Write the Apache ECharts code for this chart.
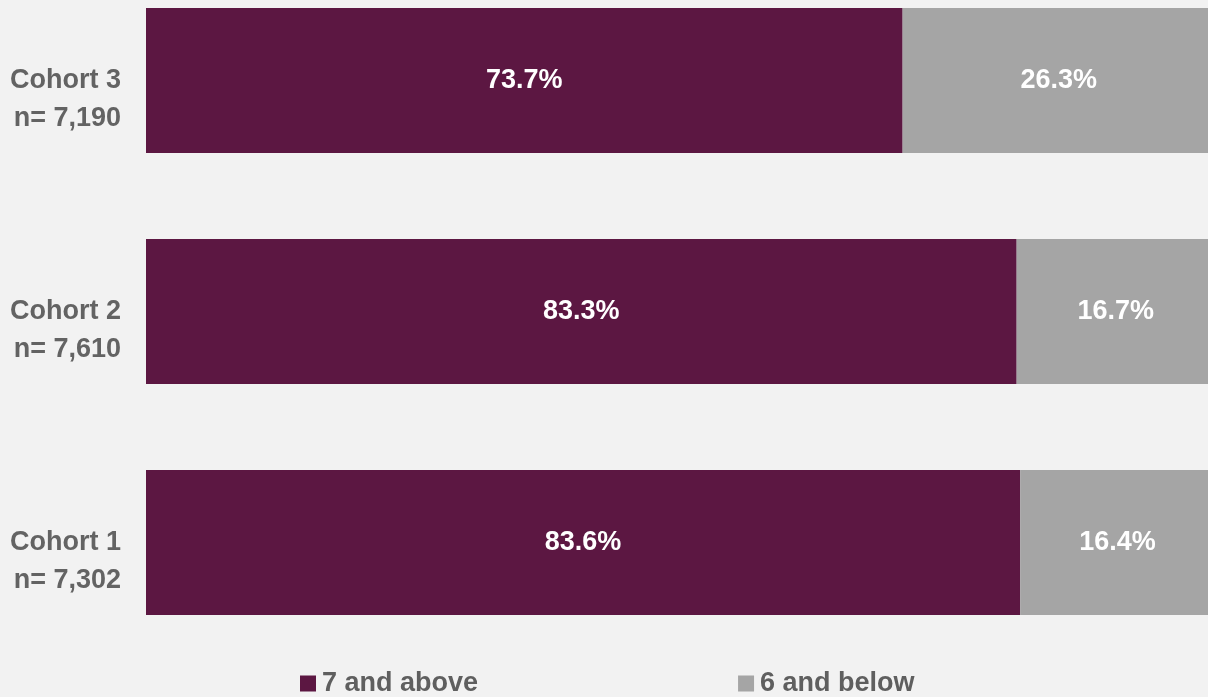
<!DOCTYPE html>
<html>
<head>
<meta charset="utf-8">
<script src="https://cdn.jsdelivr.net/npm/echarts@6/dist/echarts.min.js"></script>
<style>
html,body{margin:0;padding:0;background:#f2f2f2;}
#c{width:1208px;height:697px;}
</style>
</head>
<body>
<div id="c"></div>
<script>
const categories = ['Cohort 1\nn= 7,302', 'Cohort 2\nn= 7,610', 'Cohort 3\nn= 7,190'];
const seriesNames = ['7 and above', '6 and below'];
const aboveValues = [83.6, 83.3, 73.7];
const belowValues = [16.4, 16.7, 26.3];

const FONT = '"Liberation Sans Narrow", "Arial Narrow", "Liberation Sans", sans-serif';
const chart = echarts.init(document.getElementById('c'));
chart.setOption({
  backgroundColor: '#f2f2f2',
  animation: false,
  grid: { left: 146, width: 1069, top: -35, height: 693, containLabel: false, outerBoundsMode: 'none' },
  xAxis: {
    type: 'value', min: 10, max: 100, show: false,
    splitLine: { show: false }
  },
  yAxis: {
    type: 'category', data: categories,
    axisLine: { show: false }, axisTick: { show: false },
    axisLabel: {
      margin: 25, color: '#636363', fontFamily: FONT, fontWeight: 'bold',
      fontSize: 27, lineHeight: 38, align: 'right', verticalAlign: 'middle',
      formatter: v => '\n' + v
    }
  },
  legend: {
    left: 295, top: 665, itemGap: 260, itemWidth: 16, itemHeight: 16, icon: 'rect',
    textStyle: { color: '#5f5f5f', fontFamily: FONT, fontWeight: 'bold', fontSize: 27, padding: [0, 0, 0, 1] },
    data: seriesNames
  },
  series: [
    {
      name: seriesNames[0], type: 'bar', stack: 'total', data: aboveValues, barWidth: 145,
      itemStyle: { color: '#5c1742' },
      label: { show: true, position: 'inside', color: '#ffffff', fontFamily: FONT, fontWeight: 'bold', fontSize: 27,
        formatter: p => p.value.toFixed(1) + '%' }
    },
    {
      name: seriesNames[1], type: 'bar', stack: 'total', data: belowValues, barWidth: 145,
      itemStyle: { color: '#a5a5a5' },
      label: { show: true, position: 'inside', color: '#ffffff', fontFamily: FONT, fontWeight: 'bold', fontSize: 27,
        formatter: p => p.value.toFixed(1) + '%' }
    }
  ]
});
</script>
</body>
</html>
